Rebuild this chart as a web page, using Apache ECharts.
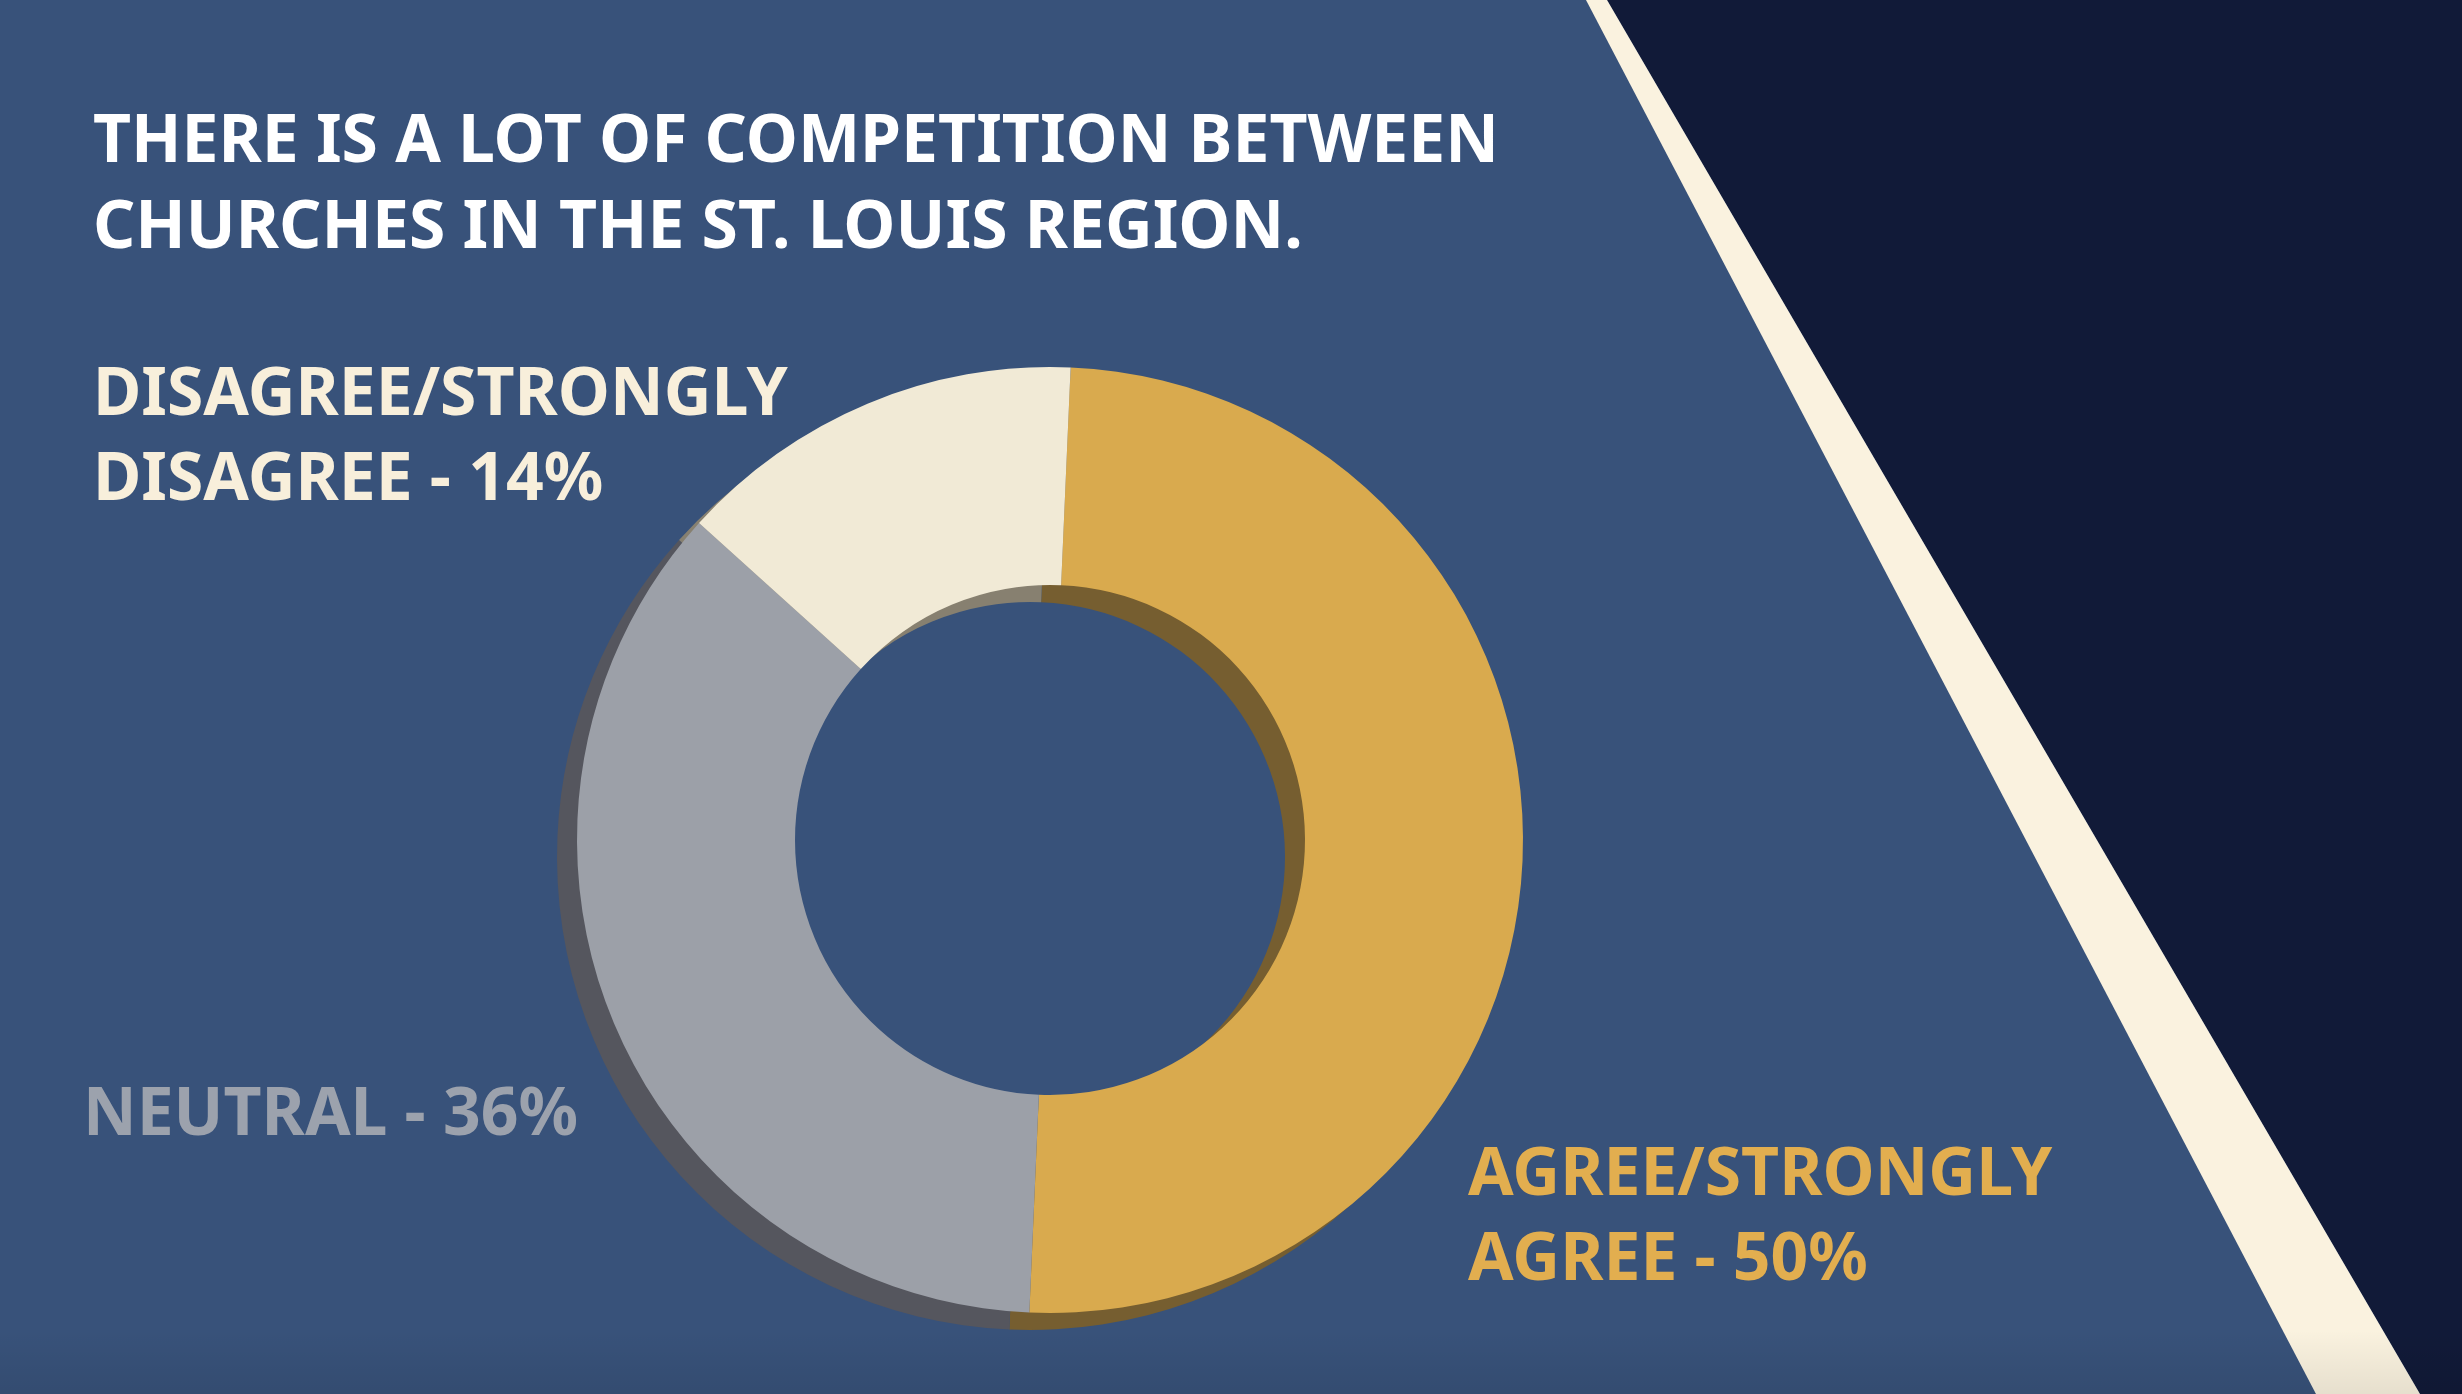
<!DOCTYPE html>
<html>
<head>
<meta charset="utf-8">
<title>Competition between churches</title>
<script src="https://cdn.jsdelivr.net/npm/echarts@6/dist/echarts.min.js"></script>
<style>
  html, body { margin: 0; padding: 0; background: #38527a; }
  #chart { width: 2462px; height: 1394px; }
</style>
</head>
<body>
<div id="chart"></div>
<script>
// data
var titleLines = ['THERE IS A LOT OF COMPETITION BETWEEN', 'CHURCHES IN THE ST. LOUIS REGION.']
var categories = ['AGREE/STRONGLY\nAGREE', 'NEUTRAL', 'DISAGREE/STRONGLY\nDISAGREE']
var values = [50, 36, 14]

var sliceColors = ['#d9aa4e', '#9ca0a8', '#f1ead6']
var shadowColors = ['#765e30', '#55565e', '#878070']
var labelColors = ['#e2ae4f', '#9ca2ad', '#f8efdb']
// where each label's top-left corner sits
var labelPos = [[1468, 1134], [83, 1074], [93, 354]]

var FONT = '"Noto Sans", "Open Sans", sans-serif'

var chart = echarts.init(document.getElementById('chart'))

function pieData(colors) {
  return values.map(function (v, i) {
    return { name: categories[i], value: v, itemStyle: { color: colors[i] } }
  })
}

chart.setOption({
  backgroundColor: '#38527a',
  animation: false,
  graphic: [
    {
      type: 'polygon', z: -10,
      shape: { points: [[1607, 0], [2462, 0], [2462, 1394], [2420, 1394]] },
      style: { fill: '#111a38' }
    },
    {
      type: 'polygon', z: -10,
      shape: { points: [[1586, 0], [1607, 0], [2420, 1394], [2316, 1394]] },
      style: { fill: '#faf2df' }
    },
    {
      type: 'rect', z: -9,
      shape: { x: 0, y: 1330, width: 2462, height: 64 },
      style: {
        fill: new echarts.graphic.LinearGradient(0, 0, 0, 1, [
          { offset: 0, color: 'rgba(0,0,0,0)' },
          { offset: 1, color: 'rgba(0,0,0,0.08)' }
        ])
      }
    },
    {
      type: 'text', left: 93, top: 100,
      style: {
        text: titleLines.join('\n'),
        fill: '#ffffff',
        font: '700 66px ' + FONT,
        letterSpacing: 0.6,
        lineHeight: 86
      }
    }
  ],
  series: [
    {
      // drop shadow copy of the ring
      type: 'pie',
      silent: true,
      center: [1030, 857],
      radius: [255, 473],
      startAngle: 87.5,
      label: { show: false },
      labelLine: { show: false },
      data: pieData(shadowColors)
    },
    {
      type: 'pie',
      center: [1050, 840],
      radius: [255, 473],
      startAngle: 87.5,
      emphasis: { disabled: true },
      labelLine: { show: false },
      label: {
        show: true,
        position: 'outside',
        formatter: function (p) { return p.name + ' - ' + p.value + '%' },
        fontFamily: FONT,
        fontWeight: 700,
        fontSize: 66,
        lineHeight: 85
      },
      labelLayout: function (params) {
        var pos = labelPos[params.dataIndex]
        return { x: pos[0], y: pos[1], align: 'left', verticalAlign: 'top', moveOverlap: false }
      },
      data: values.map(function (v, i) {
        return {
          name: categories[i], value: v,
          itemStyle: { color: sliceColors[i] },
          label: { color: labelColors[i] }
        }
      })
    }
  ]
})
</script>
</body>
</html>
